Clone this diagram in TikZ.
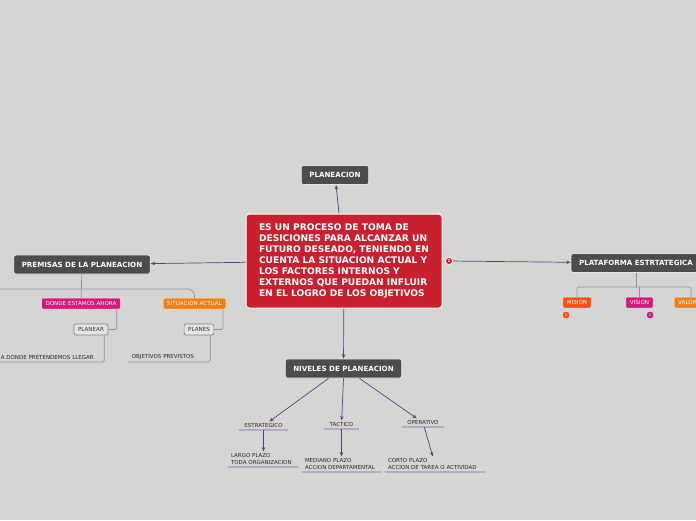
\documentclass[tikz,border=0pt]{standalone}
\usepackage{fontspec}
\setmainfont{DejaVu Sans}
\usetikzlibrary{arrows.meta}

\definecolor{bgcolor}{HTML}{D5D6D3}
\definecolor{centralred}{HTML}{C8202F}
\definecolor{topicgray}{HTML}{4C4C4C}
\definecolor{linkpurple}{HTML}{5E3C7E}
\definecolor{treeline}{HTML}{9C87AC}
\definecolor{underline}{HTML}{B9A7C6}
\definecolor{pinkbox}{HTML}{D21A80}
\definecolor{orangebox}{HTML}{F27E14}
\definecolor{redorangebox}{HTML}{FA4F0E}

\begin{document}
\begin{tikzpicture}[x=1pt, y=-1pt,
    central/.style={rectangle, rounded corners=3pt, draw=white, line width=1pt, fill=centralred, text=white,
      font=\bfseries\fontsize{9.1}{11}\selectfont, align=left, minimum width=196pt, minimum height=94pt},
    topic/.style={rectangle, rounded corners=2pt, draw=white!80!gray, line width=0.8pt, fill=topicgray, text=white,
      font=\bfseries\fontsize{7.1}{8}\selectfont, minimum height=19pt, inner xsep=8pt},
    sub/.style={rectangle, rounded corners=1pt, draw=white!60!bgcolor, line width=0.5pt, text=white,
      font=\fontsize{5.6}{6}\selectfont, minimum height=11pt, inner xsep=4pt, inner ysep=0pt},
    leaf/.style={rectangle, rounded corners=2pt, draw=gray, line width=0.7pt, fill=gray!20, text=black!80,
      font=\fontsize{5.6}{6}\selectfont, minimum height=11pt, inner xsep=4pt, inner ysep=0pt},
    note/.style={font=\fontsize{5.5}{7}\selectfont, text=black!85, inner xsep=3pt, inner ysep=2pt, anchor=south},
    badge/.style={rectangle, rounded corners=1.5pt, minimum size=6pt, inner sep=0pt, text=white, font=\fontsize{3.5}{4}\selectfont},
    link/.style={draw=linkpurple, line width=0.7pt, -{Stealth[length=4.5pt,width=3.5pt]}},
    tree/.style={draw=treeline, line width=0.7pt},
    under/.style={draw=underline, line width=1.2pt}
  ]
  \fill[bgcolor] (0,0) rectangle (696,520);
  \clip (0,0) rectangle (696,520);

  % centro
  \node[central] (centro) at (344,261) {ES UN PROCESO DE TOMA DE\\DESICIONES PARA ALCANZAR UN\\FUTURO DESEADO, TENIENDO EN\\CUENTA LA SITUACION ACTUAL Y\\LOS FACTORES INTERNOS Y\\EXTERNOS QUE PUEDAN INFLUIR\\EN EL LOGRO DE LOS OBJETIVOS};
  \node[circle, fill=centralred, draw=white, line width=0.6pt, inner sep=0pt, minimum size=7pt, text=white, font=\bfseries\fontsize{4}{4}\selectfont] (contador) at (449,261) {1};

  % temas principales
  \node[topic] (planeacion) at (335,175) {PLANEACION};
  \node[topic] (premisas) at (82,264.5) {PREMISAS DE LA PLANEACION};
  \node[topic] (plataforma) at (636,263) {PLATAFORMA ESTRTATEGICA};
  \node[topic] (niveles) at (343.5,368.5) {NIVELES DE PLANEACION};

  \draw[link] (centro) -- (planeacion);
  \draw[link] (centro) -- (premisas);
  \draw[link] (centro) -- (niveles);
  \draw[link] (contador) -- (plataforma);

  % premisas
  \node[sub, fill=pinkbox] (donde) at (81,303.5) {DONDE ESTAMOS AHORA};
  \node[sub, fill=orangebox] (situacion) at (194.5,303.5) {SITUACION ACTUAL};
  \node[leaf] (planear) at (91,329.5) {PLANEAR};
  \node[leaf] (planes) at (199,329.5) {PLANES};
  \node[note, anchor=south east, text width=100pt, align=left] (hacia) at (104,362) {A DONDE PRETENDEMOS LLEGAR};
  \node[note, anchor=south east, text width=75pt, align=left] (objetivos) at (210,362) {OBJETIVOS PREVISTOS};
  \coordinate (premizq) at (-10,289);

  \draw[tree] (premisas) -- (donde);
  \draw[tree, rounded corners=7pt] (premizq) -| (situacion);
  \draw[tree, rounded corners=1.5pt] ([xshift=-4pt]donde.south east) |- (planear);
  \draw[tree, rounded corners=1.5pt] ([xshift=-3pt]situacion.south east) |- (planes);
  \draw[tree, rounded corners=1.5pt] ([xshift=-4pt]planear.south east) |- (hacia.south west);
  \draw[tree, rounded corners=1.5pt] ([xshift=-4pt]planes.south east) |- (objetivos.south west);

  % plataforma
  \node[sub, fill=redorangebox] (mision) at (577,302.5) {MISION};
  \node[sub, fill=pinkbox] (vision) at (639.5,302.5) {VISION};
  \node[sub, fill=orangebox] (valores) at (691,302.5) {VALORES};
  \node[badge, fill=redorangebox] (badgemision) at (566,315) {2};
  \node[badge, fill=pinkbox] (badgevision) at (650,315) {2};
  \coordinate (platrama) at (636,287);

  \draw[tree] (plataforma) -- (platrama);
  \draw[tree, rounded corners=2pt] (mision) |- (platrama) -| (valores);
  \draw[tree] (vision) -- (vision |- platrama);

  % niveles
  \node[note, text width=42pt, align=center] (estrategico) at (263.5,430) {ESTRATEGICO};
  \node[note, text width=28pt, align=center] (tactico) at (341.5,429) {TACTICO};
  \node[note, text width=35pt, align=center] (operativo) at (423,427) {OPERATIVO};
  \node[note, text width=65pt, align=left] (largo) at (263.5,467) {LARGO PLAZO\\TODA ORGANIZACION};
  \node[note, text width=73pt, align=left] (mediano) at (341.5,472) {MEDIANO PLAZO\\ACCION DEPARTAMENTAL};
  \node[note, text width=94pt, align=left] (corto) at (435,472) {CORTO PLAZO\\ACCION DE TAREA O ACTIVIDAD};

  \foreach \n in {estrategico, tactico, operativo, largo, mediano, corto}
    \draw[under] (\n.south west) -- (\n.south east);

  \draw[link] ([xshift=-15pt]niveles.south) -- (estrategico);
  \draw[link] (niveles.south) -- (tactico);
  \draw[link] ([xshift=16pt]niveles.south) -- (operativo);
  \draw[link] (estrategico) -- (largo);
  \draw[link] (tactico) -- (mediano);
  \draw[link] (operativo) -- (corto);
\end{tikzpicture}
\end{document}
